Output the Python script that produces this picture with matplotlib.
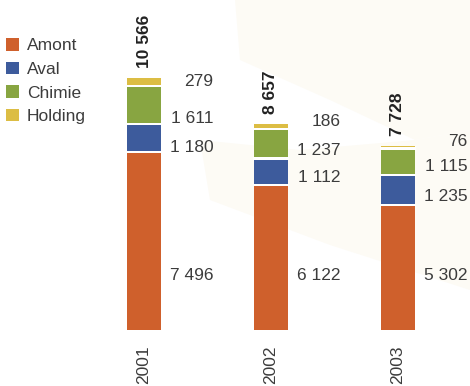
import matplotlib.pyplot as plt
from matplotlib.patches import Polygon

plt.rcParams['font.family'] = ['Liberation Sans', 'DejaVu Sans']

# chiffre d'affaires par secteur (M€)
years = ['2001', '2002', '2003']
sectors = ['Amont', 'Aval', 'Chimie', 'Holding']
amont = [7496, 6122, 5302]
aval = [1180, 1112, 1235]
chimie = [1611, 1237, 1115]
holding = [279, 186, 76]
totals = [10566, 8657, 7728]

colors = ['#cf602c', '#3d5b9c', '#88a541', '#dcbd44']
text_col = '#3c3c3c'

# hauteur des étiquettes de valeur, par année (Amont, Aval, Chimie, Holding)
label_y = [
    [2306, 7631, 8847, 10398],
    [2306, 6373, 7505, 8721],
    [2306, 5577, 6876, 7883],
]


def fmt(v):
    return f'{v:,}'.replace(',', ' ')


W, H = 470, 386
fig = plt.figure(figsize=(W / 100, H / 100), dpi=100)
fig.patch.set_facecolor('white')

# fond : voile crème très léger
def px(pts):
    return [(x / W, 1 - y / H) for x, y in pts]

cream = '#fdfbf5'
fig.patches.append(Polygon(px([(235, 0), (470, 0), (470, 130), (415, 140),
                               (330, 100), (240, 60)]),
                           closed=True, transform=fig.transFigure,
                           facecolor=cream, edgecolor='none', zorder=-1))
fig.patches.append(Polygon(px([(200, 140), (300, 150), (415, 140), (470, 130),
                               (470, 290), (330, 245), (210, 200)]),
                           closed=True, transform=fig.transFigure,
                           facecolor=cream, edgecolor='none', zorder=-1))

ax = fig.add_axes([80 / W, 1 - 330 / H, 390 / W, 330 / H])
ax.patch.set_alpha(0)

x = list(range(len(years)))
series = [amont, aval, chimie, holding]
width = 0.268
bottom = [0, 0, 0]
for vals, col, name in zip(series, colors, sectors):
    ax.bar(x, vals, width=width, bottom=bottom, color=col, linewidth=0,
           label=name)
    bottom = [b0 + v for b0, v in zip(bottom, vals)]

# filets blancs entre les segments (pris sur le segment du dessous)
gap = 90
level = [0, 0, 0]
for vals in series[:-1]:
    level = [l + v for l, v in zip(level, vals)]
    ax.bar(x, gap, width=width * 1.05, bottom=[l - gap for l in level],
           color='white', linewidth=0)

# valeurs à droite des barres
for i in x:
    for k, vals in enumerate(series):
        ax.text(i + 0.545, label_y[i][k], fmt(vals[i]), ha='right',
                va='center', fontsize=12.5, color=text_col)
    ax.annotate(fmt(totals[i]), (i, totals[i]), xytext=(0, 7),
                textcoords='offset points', rotation=90, ha='center',
                va='bottom', fontsize=12.5, fontweight='bold', color='#222222')

ax.set_xlim(-0.504, 2.567)
ax.set_ylim(0, 13836)
ax.set_xticks(x)
ax.set_xticklabels(years, rotation=90, fontsize=12.5, color=text_col)
ax.tick_params(axis='x', length=0, pad=11)
ax.set_yticks([])
for s in ax.spines.values():
    s.set_visible(False)

ax.legend(loc='upper left', bbox_to_anchor=(6 / W, 1 - 38 / H),
          bbox_transform=fig.transFigure, frameon=False, fontsize=12.5,
          handlelength=0.75, handleheight=0.75, handletextpad=0.45,
          labelspacing=0.47, borderpad=0, borderaxespad=0,
          labelcolor=text_col)
for h in ax.get_legend().legend_handles:
    h.set_edgecolor('none')

fig.savefig('out.png', dpi=100)
